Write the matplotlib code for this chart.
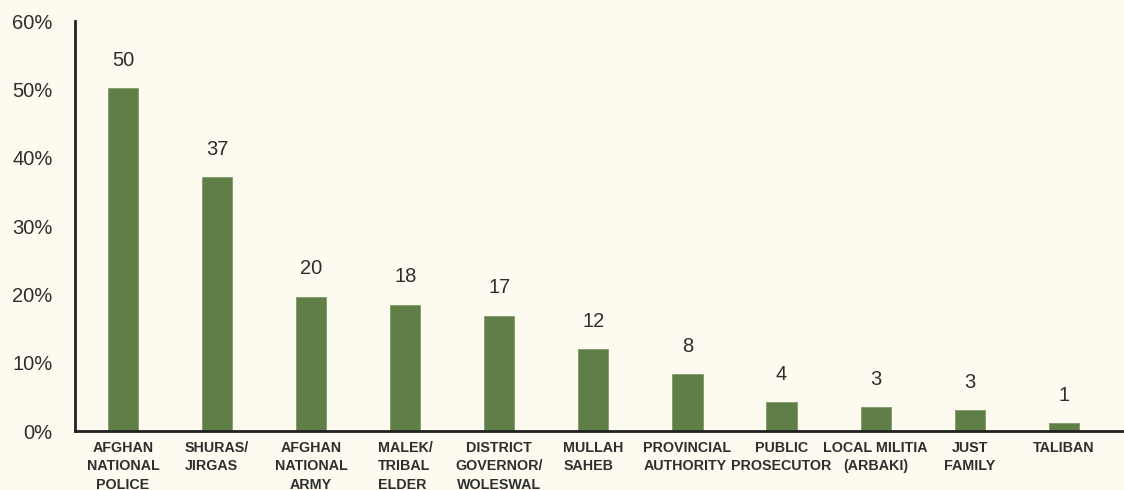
import matplotlib.pyplot as plt
from matplotlib.ticker import PercentFormatter

categories = [
    "AFGHAN\nNATIONAL\nPOLICE",
    "SHURAS/\nJIRGAS",
    "AFGHAN\nNATIONAL\nARMY",
    "MALEK/\nTRIBAL\nELDER",
    "DISTRICT\nGOVERNOR/\nWOLESWAL",
    "MULLAH\nSAHEB",
    "PROVINCIAL\nAUTHORITY",
    "PUBLIC\nPROSECUTOR",
    "LOCAL MILITIA\n(ARBAKI)",
    "JUST\nFAMILY",
    "TALIBAN",
]
values = [50.2, 37.2, 19.7, 18.5, 16.9, 12.0, 8.4, 4.3, 3.5, 3.1, 1.2]
value_labels = ["50", "37", "20", "18", "17", "12", "8", "4", "3", "3", "1"]
label_align = ["center", "left", "center", "left", "center", "left",
               "left", "center", "center", "center", "center"]
y_ticks = [0, 10, 20, 30, 40, 50, 60]

BG = "#fdfbf0"
BAR = "#5f7f46"
TXT = "#2e2e2e"

plt.rcParams['font.family'] = ['Liberation Sans', 'DejaVu Sans']

fig = plt.figure(figsize=(11.24, 4.9), dpi=100, facecolor=BG)
ax = fig.add_axes([0.0667, 0.120, 0.9333, 0.837])
ax.set_facecolor(BG)

x = list(range(len(values)))
ax.bar(x, values, width=0.32, color=BAR, edgecolor="#7f9a68", linewidth=0.6)

for xi, v, lab in zip(x, values, value_labels):
    ax.annotate(lab, (xi, v), xytext=(0, 20), textcoords="offset points",
                ha="center", va="center", fontsize=14.5, color=TXT)

ax.set_xlim(-0.51, 10.64)
ax.set_ylim(0, 60)
ax.set_yticks(y_ticks)
ax.yaxis.set_major_formatter(PercentFormatter(decimals=0))
ax.tick_params(axis="y", length=0, pad=16, labelsize=14.5, labelcolor=TXT)

ax.set_xticks(x)
ax.set_xticklabels([])
ax.tick_params(axis="x", length=0)
for xi, cat, al in zip(x, categories, label_align):
    ax.annotate(cat, (xi, 0), xytext=(0, -7), textcoords="offset points",
                ha="center", va="top", multialignment=al, fontsize=10.3,
                fontweight="bold", color=TXT, linespacing=1.4,
                annotation_clip=False)

for side in ["top", "right"]:
    ax.spines[side].set_visible(False)
for side in ["left", "bottom"]:
    ax.spines[side].set_color("#222222")
    ax.spines[side].set_linewidth(2)

fig.savefig("out.png", dpi=100, facecolor=BG)
